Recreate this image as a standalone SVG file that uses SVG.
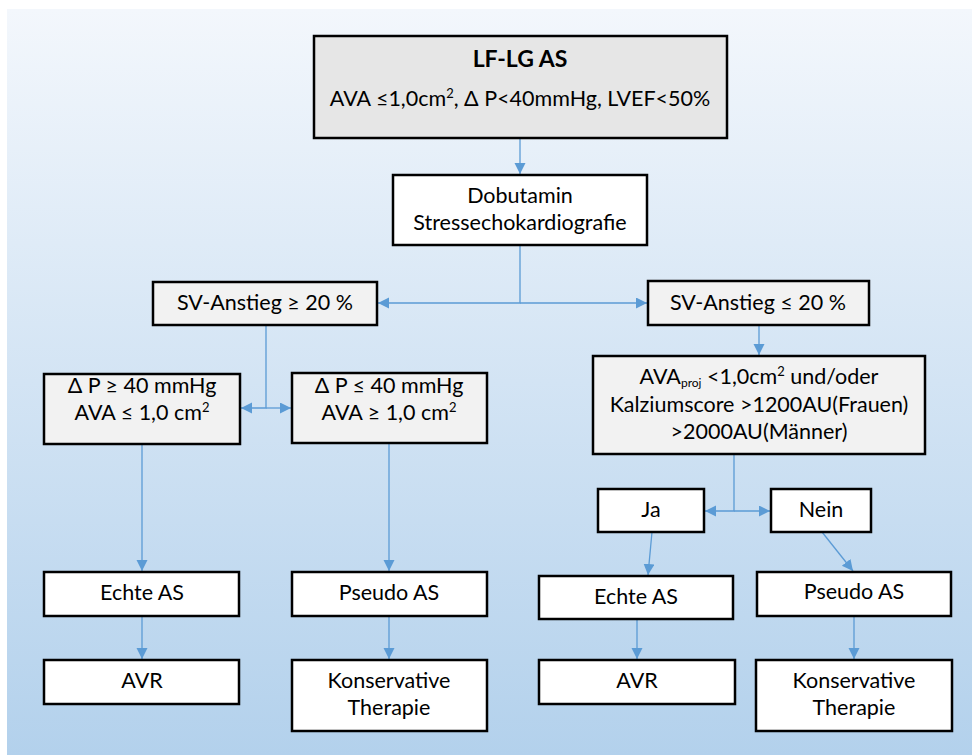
<svg xmlns="http://www.w3.org/2000/svg" width="972" height="755" viewBox="0 0 972 755">
<defs>
<linearGradient id="bg" x1="0" y1="0" x2="0" y2="1">
<stop offset="0" stop-color="#f3f7fc"/>
<stop offset="1" stop-color="#b3d1ec"/>
</linearGradient>
<marker id="ah" markerUnits="userSpaceOnUse" markerWidth="12" markerHeight="12" refX="11" refY="5.5" orient="auto">
<path d="M0,0 L11,5.5 L0,11 z" fill="#5b9bd5"/>
</marker>
</defs>
<style>
.box{stroke:#000;stroke-width:2.5}
.g{fill:#f2f2f2}
.w{fill:#ffffff}
.t{fill:#e6e6e6}
text{font-family:Lato,"Open Sans","Liberation Sans",sans-serif;font-size:21.5px;fill:#000;text-anchor:middle}
.c{fill:none;stroke:#5b9bd5;stroke-width:1.3}
</style>
<rect x="7" y="9" width="965" height="746" fill="url(#bg)"/>
<g id="connectors">
<path class="c" d="M520,138 V174" marker-end="url(#ah)"/>
<path class="c" d="M520,245 V303 H378" marker-end="url(#ah)"/>
<path class="c" d="M520,303 H647" marker-end="url(#ah)"/>
<path class="c" d="M266,325 V408 H241" marker-end="url(#ah)"/>
<path class="c" d="M266,408 H291" marker-end="url(#ah)"/>
<path class="c" d="M759,325 V355" marker-end="url(#ah)"/>
<path class="c" d="M734,454 V511 H705" marker-end="url(#ah)"/>
<path class="c" d="M734,511 H770" marker-end="url(#ah)"/>
<path class="c" d="M142,444 V571" marker-end="url(#ah)"/>
<path class="c" d="M389,443 V571" marker-end="url(#ah)"/>
<path class="c" d="M652,532 L648,575" marker-end="url(#ah)"/>
<path class="c" d="M822,532 L853,571" marker-end="url(#ah)"/>
<path class="c" d="M142,616 V659" marker-end="url(#ah)"/>
<path class="c" d="M389,616 V659" marker-end="url(#ah)"/>
<path class="c" d="M637,619 V659" marker-end="url(#ah)"/>
<path class="c" d="M854,616 V659" marker-end="url(#ah)"/>
</g>
<g id="n_top">
<rect class="box t" x="314" y="36" width="413" height="102"/>
<text x="520" y="67" style="font-weight:bold;font-size:23px">LF-LG AS</text>
<text x="520" y="106">AVA ≤1,0cm<tspan dy="-8" font-size="13">2</tspan><tspan dy="8">, Δ P&lt;40mmHg, LVEF&lt;50%</tspan></text>
</g>
<g id="n_dobutamin">
<rect class="box w" x="393" y="175" width="254" height="70"/>
<text x="520" y="203">Dobutamin</text>
<text x="520" y="230">Stressechokardiografie</text>
</g>
<g id="n_sv_up">
<rect class="box g" x="153" y="282" width="224" height="43"/>
<text x="265" y="310">SV-Anstieg ≥ 20 %</text>
</g>
<g id="n_sv_down">
<rect class="box g" x="648" y="281" width="221" height="44"/>
<text x="758" y="310">SV-Anstieg ≤ 20 %</text>
</g>
<g id="n_dp_ge">
<rect class="box g" x="44" y="374" width="196" height="70"/>
<text x="142" y="393">Δ P ≥ 40 mmHg</text>
<text x="142" y="420">AVA ≤ 1,0 cm<tspan dy="-8" font-size="13">2</tspan></text>
</g>
<g id="n_dp_le">
<rect class="box g" x="292" y="373" width="195" height="70"/>
<text x="389" y="393">Δ P ≤ 40 mmHg</text>
<text x="389" y="420">AVA ≥ 1,0 cm<tspan dy="-8" font-size="13">2</tspan></text>
</g>
<g id="n_avaproj">
<rect class="box g" x="593" y="356" width="332" height="98"/>
<text x="759" y="384">AVA<tspan dy="3" font-size="12">proj</tspan><tspan dy="-3"> &lt;1,0cm</tspan><tspan dy="-8" font-size="13">2</tspan><tspan dy="8"> und/oder</tspan></text>
<text x="759" y="412">Kalziumscore &gt;1200AU(Frauen)</text>
<text x="759" y="439">&gt;2000AU(Männer)</text>
</g>
<g id="n_ja">
<rect class="box w" x="598" y="489" width="106" height="43"/>
<text x="651" y="517">Ja</text>
</g>
<g id="n_nein">
<rect class="box w" x="771" y="489" width="100" height="43"/>
<text x="821" y="517">Nein</text>
</g>
<g id="n_echte_l">
<rect class="box w" x="44" y="572" width="195" height="44"/>
<text x="142" y="600">Echte AS</text>
</g>
<g id="n_pseudo_l">
<rect class="box w" x="292" y="572" width="195" height="44"/>
<text x="389" y="600">Pseudo AS</text>
</g>
<g id="n_echte_r">
<rect class="box w" x="539" y="576" width="194" height="43"/>
<text x="636" y="604">Echte AS</text>
</g>
<g id="n_pseudo_r">
<rect class="box w" x="757" y="572" width="194" height="44"/>
<text x="854" y="599">Pseudo AS</text>
</g>
<g id="n_avr_l">
<rect class="box w" x="44" y="660" width="195" height="44"/>
<text x="142" y="688">AVR</text>
</g>
<g id="n_kons_l">
<rect class="box w" x="292" y="660" width="195" height="71"/>
<text x="389" y="688">Konservative</text>
<text x="389" y="715">Therapie</text>
</g>
<g id="n_avr_r">
<rect class="box w" x="539" y="660" width="196" height="44"/>
<text x="637" y="688">AVR</text>
</g>
<g id="n_kons_r">
<rect class="box w" x="756" y="660" width="196" height="71"/>
<text x="854" y="688">Konservative</text>
<text x="854" y="715">Therapie</text>
</g>
</svg>
